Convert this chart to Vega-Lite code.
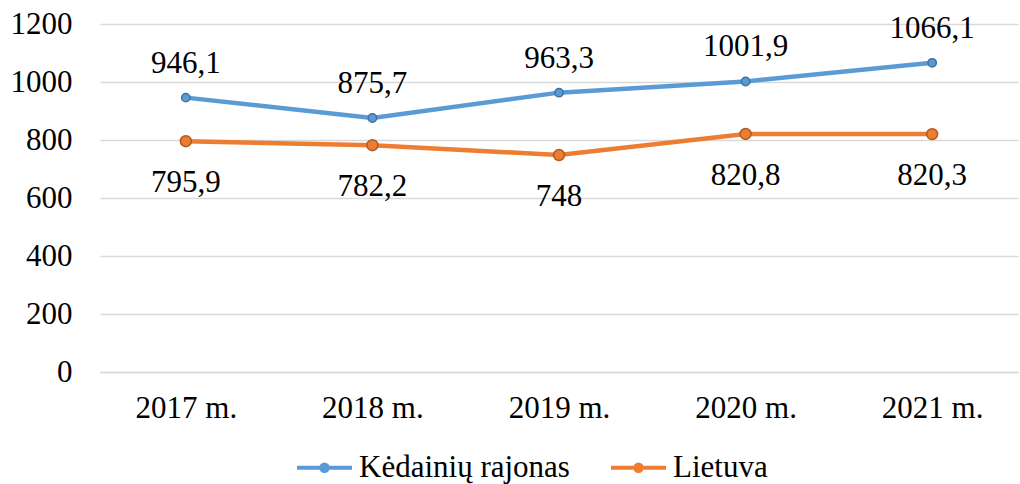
{
  "$schema": "https://vega.github.io/schema/vega-lite/v6.json",
  "autosize": "none",
  "width": 918,
  "height": 348,
  "padding": {"left": 100, "top": 24, "right": 2, "bottom": 112},
  "background": "white",
  "config": {
    "font": "Liberation Serif",
    "view": {"stroke": null},
    "axis": {"labelFont": "Liberation Serif", "labelFontSize": 31, "labelColor": "#000000"},
    "legend": {"labelFont": "Liberation Serif", "labelFontSize": 31, "labelColor": "#000000"}
  },
  "data": {
    "values": [
      {"year": "2017 m.", "series": "Kėdainių rajonas", "value": 946.1, "label": "946,1"},
      {"year": "2018 m.", "series": "Kėdainių rajonas", "value": 875.7, "label": "875,7"},
      {"year": "2019 m.", "series": "Kėdainių rajonas", "value": 963.3, "label": "963,3"},
      {"year": "2020 m.", "series": "Kėdainių rajonas", "value": 1001.9, "label": "1001,9"},
      {"year": "2021 m.", "series": "Kėdainių rajonas", "value": 1066.1, "label": "1066,1"},
      {"year": "2017 m.", "series": "Lietuva", "value": 795.9, "label": "795,9"},
      {"year": "2018 m.", "series": "Lietuva", "value": 782.2, "label": "782,2"},
      {"year": "2019 m.", "series": "Lietuva", "value": 748, "label": "748"},
      {"year": "2020 m.", "series": "Lietuva", "value": 820.8, "label": "820,8"},
      {"year": "2021 m.", "series": "Lietuva", "value": 820.3, "label": "820,3"}
    ]
  },
  "encoding": {
    "x": {
      "field": "year", "type": "ordinal",
      "scale": {"type": "point", "padding": 0.46},
      "axis": {"title": null, "labelAngle": 0, "ticks": false, "domain": true, "domainColor": "#d9d9d9", "domainWidth": 1.5, "labelPadding": 21, "grid": false}
    },
    "y": {
      "field": "value", "type": "quantitative",
      "scale": {"domain": [0, 1200], "nice": false, "zero": true},
      "axis": {"title": null, "values": [0, 200, 400, 600, 800, 1000, 1200], "format": "d", "ticks": false, "domain": false, "grid": true, "gridColor": "#d9d9d9", "gridWidth": 1.5, "labelPadding": 28}
    }
  },
  "layer": [
    {
      "mark": {"type": "line", "strokeWidth": 4.5},
      "encoding": {
        "color": {
          "field": "series", "type": "nominal",
          "scale": {"domain": ["Kėdainių rajonas", "Lietuva"], "range": ["#5B9BD5", "#ED7D31"]},
          "legend": {
            "title": null, "orient": "none", "direction": "horizontal", "legendX": 195, "legendY": 414,
            "symbolType": "M-1,0H1M0.12,0A0.12,0.12,0,1,1,-0.12,0A0.12,0.12,0,1,1,0.12,0Z",
            "symbolSize": 3025, "symbolStrokeWidth": 4, "columnPadding": 33, "labelOffset": 5, "labelLimit": 0,
            "encode": {"symbols": {"update": {"fill": {"scale": "color", "field": "value"}, "size": {"value": 3025}, "strokeWidth": {"value": 4}}}}
          }
        }
      }
    },
    {
      "transform": [{"filter": "datum.series === 'Kėdainių rajonas'"}],
      "mark": {"type": "point", "shape": "circle", "filled": true, "opacity": 1, "size": 70, "fill": "#5B9BD5", "stroke": "#41719C", "strokeWidth": 1.5}
    },
    {
      "transform": [{"filter": "datum.series === 'Lietuva'"}],
      "mark": {"type": "point", "shape": "circle", "filled": true, "opacity": 1, "size": 120, "fill": "#ED7D31", "stroke": "#AE5A21", "strokeWidth": 1.5}
    },
    {
      "transform": [{"filter": "datum.series === 'Kėdainių rajonas'"}],
      "mark": {"type": "text", "fontSize": 31, "dy": -34, "baseline": "middle", "color": "#000000"},
      "encoding": {"text": {"field": "label"}}
    },
    {
      "transform": [{"filter": "datum.series === 'Lietuva'"}],
      "mark": {"type": "text", "fontSize": 31, "dy": 42, "baseline": "middle", "color": "#000000"},
      "encoding": {"text": {"field": "label"}}
    }
  ]
}
